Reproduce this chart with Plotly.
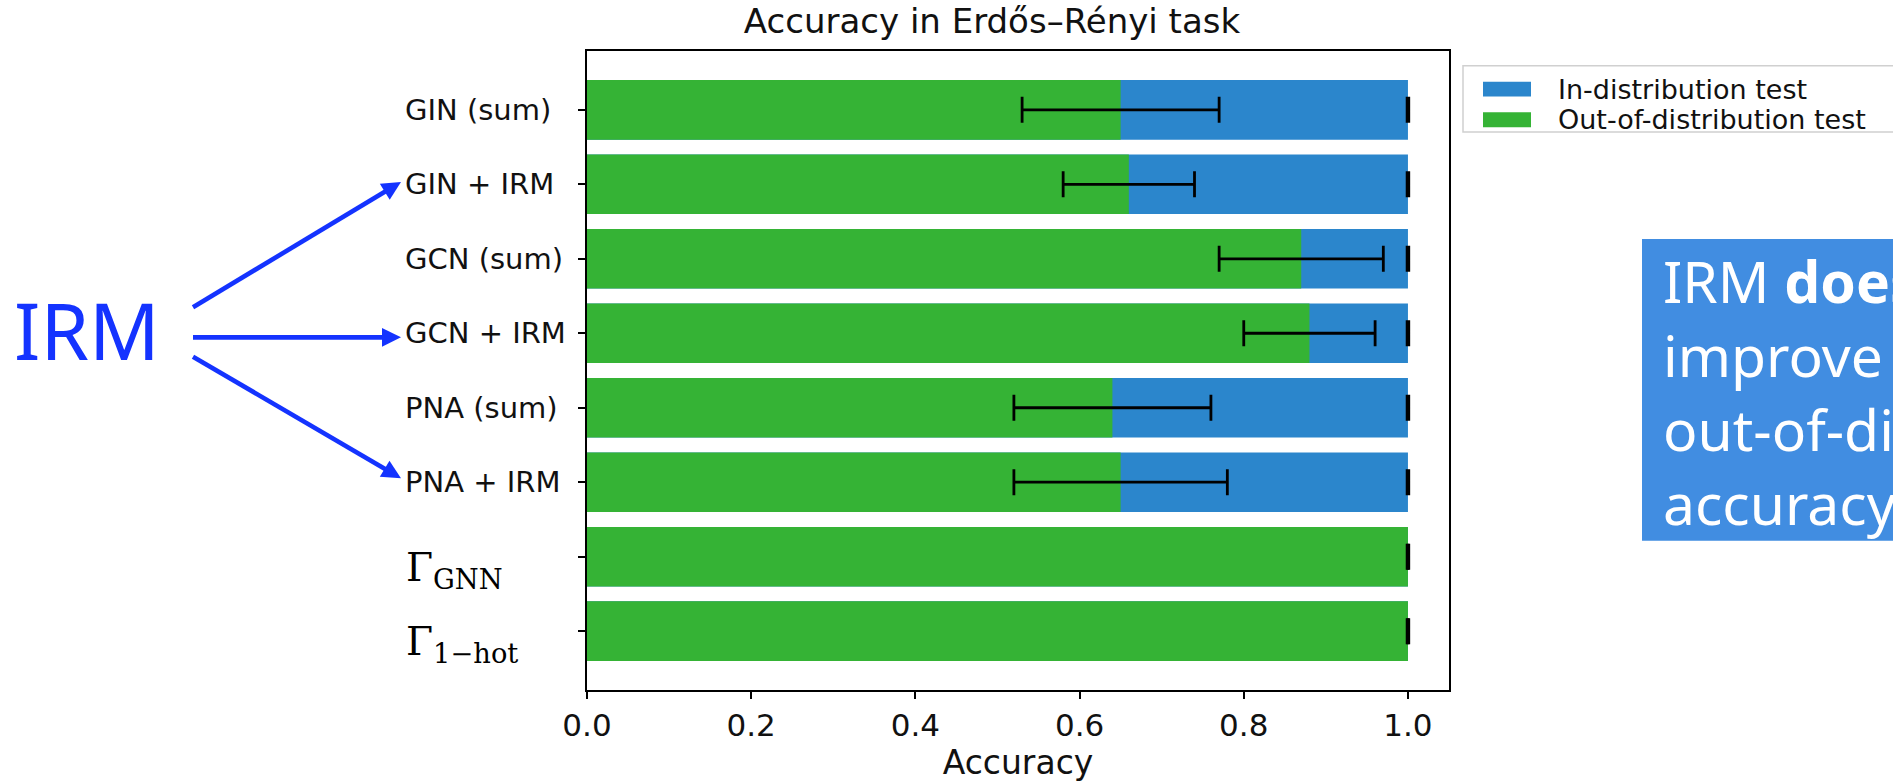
import math
import plotly.graph_objects as go

# ---------------- data ----------------
categories = ["GIN (sum)", "GIN + IRM", "GCN (sum)", "GCN + IRM",
              "PNA (sum)", "PNA + IRM", "Γ_GNN", "Γ_1−hot"]
category_labels = ["GIN (sum)", "GIN + IRM", "GCN (sum)", "GCN + IRM",
                   "PNA (sum)", "PNA + IRM",
                   "Γ<sub>GNN</sub>", "Γ<sub>1−hot</sub>"]
id_acc = [1.0, 1.0, 1.0, 1.0, 1.0, 1.0, 1.0, 1.0]
id_err = [0.001, 0.001, 0.001, 0.001, 0.001, 0.001, 0.001, 0.001]
ood_acc = [0.65, 0.66, 0.87, 0.88, 0.64, 0.65, 1.0, 1.0]
ood_err = [0.12, 0.08, 0.10, 0.08, 0.12, 0.13, 0.0, 0.0]
x_ticks = [0.0, 0.2, 0.4, 0.6, 0.8, 1.0]
x_tick_labels = ["0.0", "0.2", "0.4", "0.6", "0.8", "1.0"]
legend_labels = ["In-distribution test", "Out-of-distribution test"]
title_text = "Accuracy in Erdős–Rényi task"
x_title = "Accuracy"
side_label = "IRM"
box_lines = ["IRM <b>does not</b>", "improve", "out-of-distribution", "accuracy"]

# ---------------- style / layout ----------------
BLUE = "#2b86cc"
GREEN = "#35b335"
ARROW_BLUE = "#1433ff"
BOX_BLUE = "#418de1"
SANS = "DejaVu Sans"
SERIF = "DejaVu Serif"
SLIDE = "Noto Sans"
INK = "#111111"

W, H = 1893, 782
L, R, T, B = 587, 1449, 51, 697   # plot area in pixels


def px(x):
    return (x - L) / (R - L)


def py(y):
    return (B - y) / (B - T)


ypos = list(range(len(categories)))

fig = go.Figure()
fig.add_trace(go.Bar(orientation="h", y=ypos, x=id_acc, width=0.8,
                     marker=dict(color=BLUE, line=dict(width=0)),
                     name=legend_labels[0], showlegend=False, hoverinfo="x"))
fig.add_trace(go.Bar(orientation="h", y=ypos, x=ood_acc, width=0.8,
                     marker=dict(color=GREEN, line=dict(width=0)),
                     name=legend_labels[1], showlegend=False, hoverinfo="x"))
# error bars drawn above all bars
for vals, errs in ((id_acc, id_err), (ood_acc, ood_err)):
    fig.add_trace(go.Scatter(x=vals, y=ypos, mode="markers",
                             marker=dict(size=1, color="rgba(0,0,0,0)"),
                             error_x=dict(type="data", array=errs, color="black",
                                          thickness=2.8, width=13),
                             showlegend=False, hoverinfo="skip"))

annotations = []
shapes = []
# y category labels (left aligned as in reference)
for i, lab in enumerate(category_labels):
    if lab.startswith("Γ"):
        annotations.append(dict(xref="paper", yref="y", x=px(404), y=i,
                                xanchor="left", yanchor="middle", yshift=-13,
                                text=lab, showarrow=False,
                                font=dict(family=SERIF, size=39, color="black")))
    else:
        annotations.append(dict(xref="paper", yref="y", x=px(403), y=i,
                                xanchor="left", yanchor="middle",
                                text=lab, showarrow=False,
                                font=dict(family=SANS, size=29, color=INK)))

# legend (matplotlib style)
shapes.append(dict(type="rect", xref="paper", yref="paper",
                   x0=px(1463), x1=px(1905), y0=py(133), y1=py(66),
                   line=dict(color="#d0d0d0", width=1.5), fillcolor="white", layer="above"))
for lab, col, yc in zip(legend_labels, [BLUE, GREEN], [89.5, 120.5]):
    shapes.append(dict(type="rect", xref="paper", yref="paper",
                       x0=px(1483), x1=px(1531), y0=py(yc + 7.5), y1=py(yc - 7.5),
                       line=dict(width=0), fillcolor=col, layer="above"))
    annotations.append(dict(xref="paper", yref="paper", x=px(1556), y=py(yc),
                            xanchor="left", yanchor="middle", text=lab, showarrow=False,
                            font=dict(family=SANS, size=27, color=INK)))

# blue callout box on the right
shapes.append(dict(type="rect", xref="paper", yref="paper",
                   x0=px(1642), x1=px(1910), y0=py(546), y1=py(241),
                   line=dict(width=0), fillcolor=BOX_BLUE, layer="above"))
annotations.append(dict(xref="paper", yref="paper", x=px(1661), y=py(396),
                        xanchor="left", yanchor="middle", align="left",
                        text="<br>".join(box_lines), showarrow=False,
                        font=dict(family=SLIDE, size=57, color="white")))

# left "IRM" label
annotations.append(dict(xref="paper", yref="paper", x=px(12), y=py(333),
                        xanchor="left", yanchor="middle", text=side_label, showarrow=False,
                        font=dict(family=SLIDE, size=78, color=ARROW_BLUE)))

# arrows (shaft + triangular head)
HEAD_LEN, HEAD_HALF, SHAFT_W = 19, 9.5, 4.6
for tip, tail in (((401, 183.5), (193, 310)),
                  ((401, 340.5), (193, 340.5)),
                  ((401, 483), (193, 360))):
    dx, dy = tip[0] - tail[0], tip[1] - tail[1]
    d = math.hypot(dx, dy)
    ux, uy = dx / d, dy / d
    bx, by = tip[0] - ux * HEAD_LEN, tip[1] - uy * HEAD_LEN
    shapes.append(dict(type="line", xref="paper", yref="paper",
                       x0=px(tail[0]), y0=py(tail[1]),
                       x1=px(bx + ux * 2), y1=py(by + uy * 2),
                       line=dict(color=ARROW_BLUE, width=SHAFT_W), layer="above"))
    p1 = (bx - uy * HEAD_HALF, by + ux * HEAD_HALF)
    p2 = (bx + uy * HEAD_HALF, by - ux * HEAD_HALF)
    path = "M {:.5f},{:.5f} L {:.5f},{:.5f} L {:.5f},{:.5f} Z".format(
        px(tip[0]), py(tip[1]), px(p1[0]), py(p1[1]), px(p2[0]), py(p2[1]))
    shapes.append(dict(type="path", xref="paper", yref="paper", path=path,
                       fillcolor=ARROW_BLUE, line=dict(width=0), layer="above"))

fig.update_layout(
    width=W, height=H,
    margin=dict(l=L, r=W - R, t=T, b=H - B, pad=0),
    paper_bgcolor="white", plot_bgcolor="white",
    barmode="overlay", bargap=0.2,
    showlegend=False,
    title=dict(text=title_text, x=992 / W, xanchor="center",
               y=1 - 21 / H, yanchor="middle",
               font=dict(family=SANS, size=34, color=INK)),
    xaxis=dict(range=[0, 1.05], tickvals=x_ticks, ticktext=x_tick_labels,
               ticks="outside", ticklen=7, tickwidth=1.5, tickcolor="black",
               showline=True, linecolor="black", linewidth=1.5, mirror=True,
               showgrid=False, zeroline=False,
               tickfont=dict(family=SANS, size=31, color=INK),
               title=dict(text=x_title, standoff=4,
                          font=dict(family=SANS, size=33, color=INK))),
    yaxis=dict(range=[7.79, -0.79], tickvals=ypos, showticklabels=False,
               ticks="outside", ticklen=7, tickwidth=1.5, tickcolor="black",
               showline=True, linecolor="black", linewidth=1.5, mirror=True,
               showgrid=False, zeroline=False),
    annotations=annotations,
    shapes=shapes,
)

fig.write_html("out.html", config={"displayModeBar": False},
               post_script="document.body.style.margin='0';document.body.style.overflow='hidden';")
